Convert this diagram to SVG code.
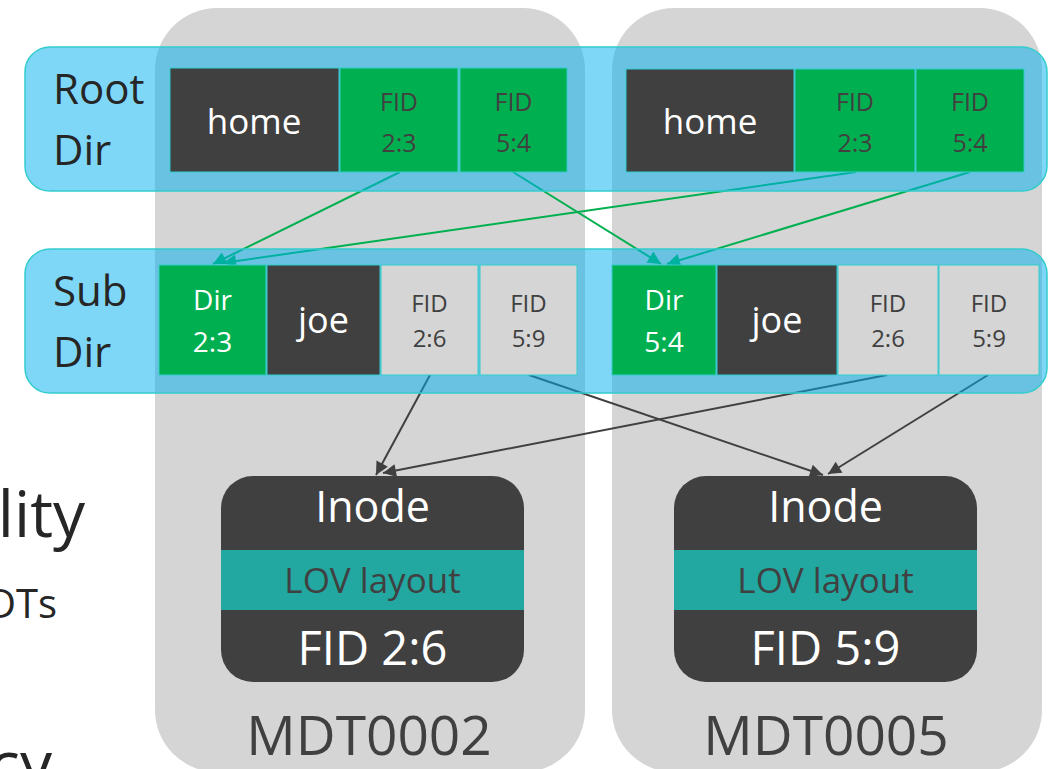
<svg xmlns="http://www.w3.org/2000/svg" width="1048" height="769" viewBox="0 0 1048 769">
<style>
text{font-family:"Open Sans","Noto Sans","DejaVu Sans",sans-serif;}
.panel{fill:#d5d5d5;}
.band{fill:#00b0f0;fill-opacity:.5;stroke:#33cccc;stroke-width:1.5;}
.dark{fill:#404040;stroke:#33cccc;stroke-width:1;}
.green{fill:#00b050;stroke:#33cccc;stroke-width:1;}
.grey{fill:#d5d5d5;stroke:#33cccc;stroke-width:1;}
.lbl{fill:#262626;}
.w{fill:#ffffff;text-anchor:middle;}
.d{fill:#404040;text-anchor:middle;}
.cg{stroke:#00b050;stroke-width:2;fill:none;marker-end:url(#ag);}
.cd{stroke:#404040;stroke-width:2;fill:none;marker-end:url(#ad);}
</style>
<defs>
<marker id="ag" viewBox="0 0 10 10" refX="10" refY="5" markerWidth="17" markerHeight="13" markerUnits="userSpaceOnUse" orient="auto"><path d="M0,0 L10,5 L0,10 z" fill="#00b050"/></marker>
<marker id="ad" viewBox="0 0 10 10" refX="10" refY="5" markerWidth="17" markerHeight="13" markerUnits="userSpaceOnUse" orient="auto"><path d="M0,0 L10,5 L0,10 z" fill="#404040"/></marker>
</defs>

<g id="panel-mdt0002"><rect class="panel" x="155" y="8" width="430" height="764" rx="62"/></g>
<g id="panel-mdt0005"><rect class="panel" x="612" y="8" width="430" height="764" rx="62"/></g>

<g id="connectors">
<line class="cg" x1="400" y1="172" x2="213" y2="264"/>
<line class="cg" x1="856" y1="172" x2="223" y2="263"/>
<line class="cg" x1="513" y1="172" x2="661" y2="264"/>
<line class="cg" x1="970" y1="172" x2="667" y2="264"/>
<line class="cd" x1="430" y1="375" x2="376" y2="475"/>
<line class="cd" x1="887" y1="375" x2="383" y2="473"/>
<line class="cd" x1="529" y1="375" x2="823" y2="475"/>
<line class="cd" x1="988" y1="375" x2="828" y2="474"/>
</g>

<g id="band-root"><rect class="band" x="25" y="47" width="1022" height="144" rx="25"/>
<text class="lbl" x="53" y="104" font-size="42">Root</text>
<text class="lbl" x="53" y="165" font-size="42">Dir</text></g>
<g id="band-sub"><rect class="band" x="25" y="249" width="1022" height="144" rx="25"/>
<text class="lbl" x="53" y="306" font-size="42">Sub</text>
<text class="lbl" x="53" y="367" font-size="42">Dir</text></g>

<g id="root-left">
<rect class="dark" x="170" y="68" width="169" height="104"/>
<text class="w" x="254" y="134" font-size="35">home</text>
<rect class="green" x="340" y="68" width="118" height="104"/>
<text class="d" x="399" y="111" font-size="25">FID</text><text class="d" x="399" y="152" font-size="25">2:3</text>
<rect class="green" x="460" y="68" width="107" height="104"/>
<text class="d" x="513.5" y="111" font-size="25">FID</text><text class="d" x="513.5" y="152" font-size="25">5:4</text>
</g>
<g id="root-right">
<rect class="dark" x="626" y="69" width="168" height="103"/>
<text class="w" x="710" y="134" font-size="35">home</text>
<rect class="green" x="795" y="69" width="120" height="103"/>
<text class="d" x="855" y="111" font-size="25">FID</text><text class="d" x="855" y="152" font-size="25">2:3</text>
<rect class="green" x="916" y="69" width="108" height="103"/>
<text class="d" x="970" y="111" font-size="25">FID</text><text class="d" x="970" y="152" font-size="25">5:4</text>
</g>

<g id="sub-left">
<rect class="green" x="159" y="265" width="107" height="110"/>
<text class="w" x="212.5" y="310" font-size="28">Dir</text><text class="w" x="212.5" y="352" font-size="28">2:3</text>
<rect class="dark" x="267" y="265" width="113" height="110"/>
<text class="w" x="323.5" y="333" font-size="36">joe</text>
<rect class="grey" x="381" y="265" width="97" height="110"/>
<text class="d" x="429.5" y="312" font-size="24">FID</text><text class="d" x="429.5" y="347" font-size="24">2:6</text>
<rect class="grey" x="480" y="265" width="97" height="110"/>
<text class="d" x="528.5" y="312" font-size="24">FID</text><text class="d" x="528.5" y="347" font-size="24">5:9</text>
</g>
<g id="sub-right">
<rect class="green" x="612" y="265" width="104" height="110"/>
<text class="w" x="664" y="310" font-size="28">Dir</text><text class="w" x="664" y="352" font-size="28">5:4</text>
<rect class="dark" x="717" y="265" width="120" height="110"/>
<text class="w" x="777" y="333" font-size="36">joe</text>
<rect class="grey" x="838" y="265" width="100" height="110"/>
<text class="d" x="888" y="312" font-size="24">FID</text><text class="d" x="888" y="347" font-size="24">2:6</text>
<rect class="grey" x="939" y="265" width="100" height="110"/>
<text class="d" x="989" y="312" font-size="24">FID</text><text class="d" x="989" y="347" font-size="24">5:9</text>
</g>

<g id="inode-2-6">
<rect x="221" y="476" width="303" height="206" rx="32" fill="#404040"/>
<rect x="221" y="550" width="303" height="60" fill="#22a8a0"/>
<text class="w" x="372.5" y="522" font-size="43">Inode</text>
<text class="d" x="372.5" y="593" font-size="35">LOV layout</text>
<text class="w" x="372.5" y="665" font-size="47">FID 2:6</text>
</g>
<g id="inode-5-9">
<rect x="674" y="476" width="303" height="206" rx="32" fill="#404040"/>
<rect x="674" y="550" width="303" height="60" fill="#22a8a0"/>
<text class="w" x="825.5" y="522" font-size="43">Inode</text>
<text class="d" x="825.5" y="593" font-size="35">LOV layout</text>
<text class="w" x="825.5" y="665" font-size="47">FID 5:9</text>
</g>

<g id="labels">
<text class="d" x="369" y="755" font-size="55">MDT0002</text>
<text class="d" x="826" y="755" font-size="55">MDT0005</text>
<text class="lbl" x="85" y="537" font-size="64" text-anchor="end">lity</text>
<text class="lbl" x="57" y="618" font-size="40" text-anchor="end">DTs</text>
<text class="lbl" x="52" y="787" font-size="64" text-anchor="end">cy</text>
</g>
</svg>
